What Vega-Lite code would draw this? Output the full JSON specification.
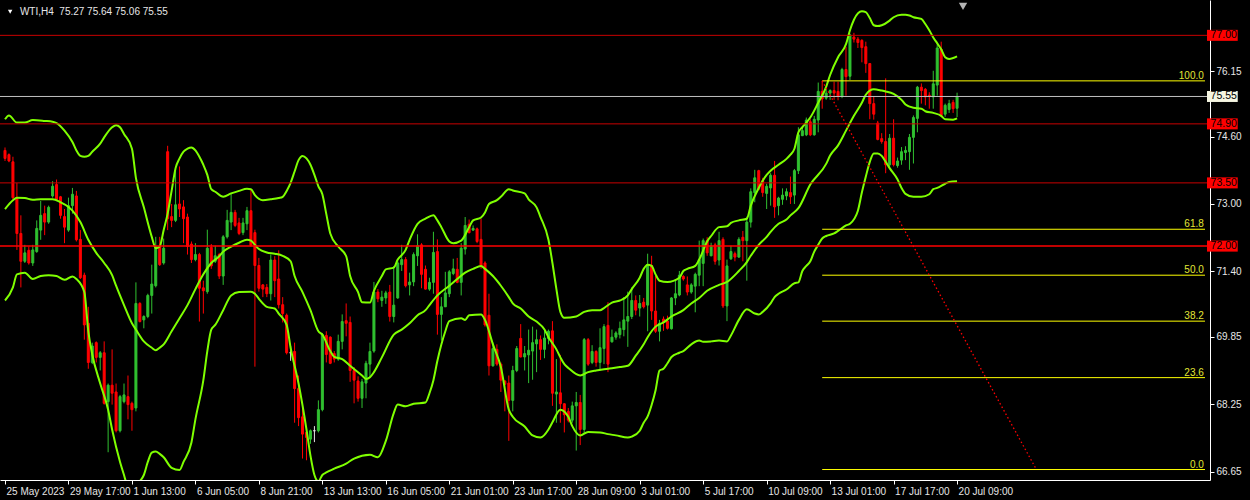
{
"$schema":"https://vega.github.io/schema/vega-lite/v6.json",
"width":1210,"height":480,
"autosize":{"type":"none"},
"padding":{"left":0,"top":0,"right":40,"bottom":20},
"background":"#000000",
"config":{"view":{"stroke":null},"axis":{"labelFont":"Liberation Sans"},"text":{"font":"Liberation Sans"}},
"datasets":{
"candles":[
{"i":0,"o":74.27,"h":74.34,"l":74.02,"c":74.08},
{"i":1,"o":74.17,"h":74.20,"l":73.99,"c":74.02},
{"i":2,"o":74.00,"h":74.12,"l":73.11,"c":73.15},
{"i":3,"o":73.15,"h":73.50,"l":71.91,"c":72.30},
{"i":4,"o":72.30,"h":72.73,"l":71.02,"c":71.64},
{"i":5,"o":71.64,"h":72.03,"l":71.60,"c":71.84},
{"i":6,"o":71.90,"h":71.99,"l":71.56,"c":71.60},
{"i":7,"o":71.60,"h":72.03,"l":71.53,"c":71.91},
{"i":8,"o":71.87,"h":72.61,"l":71.84,"c":72.42},
{"i":9,"o":72.38,"h":73.07,"l":72.15,"c":72.73},
{"i":10,"o":72.77,"h":72.96,"l":72.26,"c":72.57},
{"i":11,"o":72.57,"h":72.96,"l":72.53,"c":72.92},
{"i":12,"o":73.19,"h":73.54,"l":73.15,"c":73.42},
{"i":13,"o":73.46,"h":73.58,"l":73.07,"c":73.11},
{"i":14,"o":73.17,"h":73.19,"l":72.65,"c":72.73},
{"i":15,"o":72.70,"h":72.88,"l":72.07,"c":72.45},
{"i":16,"o":72.38,"h":73.15,"l":72.34,"c":72.96},
{"i":17,"o":72.96,"h":73.38,"l":72.77,"c":73.23},
{"i":18,"o":73.19,"h":73.31,"l":72.11,"c":72.15},
{"i":19,"o":72.16,"h":72.38,"l":71.22,"c":71.25},
{"i":20,"o":71.31,"h":71.37,"l":69.78,"c":70.13},
{"i":21,"o":70.17,"h":70.56,"l":69.09,"c":69.24},
{"i":22,"o":69.24,"h":69.71,"l":69.20,"c":69.63},
{"i":23,"o":69.71,"h":69.74,"l":69.24,"c":69.36},
{"i":24,"o":69.36,"h":69.51,"l":69.05,"c":69.47},
{"i":25,"o":69.47,"h":69.74,"l":68.24,"c":68.27},
{"i":26,"o":68.31,"h":68.74,"l":67.11,"c":68.70},
{"i":27,"o":68.70,"h":69.55,"l":68.24,"c":68.51},
{"i":28,"o":68.54,"h":68.74,"l":67.58,"c":67.62},
{"i":29,"o":67.62,"h":68.47,"l":67.58,"c":68.43},
{"i":30,"o":68.31,"h":68.74,"l":68.27,"c":68.47},
{"i":31,"o":68.43,"h":68.93,"l":67.89,"c":68.24},
{"i":32,"o":68.27,"h":68.31,"l":67.62,"c":68.12},
{"i":33,"o":68.16,"h":71.14,"l":68.08,"c":70.64},
{"i":34,"o":70.64,"h":70.67,"l":70.19,"c":70.21},
{"i":35,"o":70.25,"h":70.36,"l":70.05,"c":70.33},
{"i":36,"o":70.33,"h":70.87,"l":70.29,"c":70.83},
{"i":37,"o":70.83,"h":71.56,"l":70.40,"c":71.10},
{"i":38,"o":71.06,"h":72.22,"l":71.02,"c":71.99},
{"i":39,"o":71.99,"h":72.22,"l":71.53,"c":71.56},
{"i":40,"o":71.60,"h":72.18,"l":71.56,"c":71.95},
{"i":41,"o":74.24,"h":74.38,"l":72.38,"c":72.65},
{"i":42,"o":72.70,"h":73.00,"l":72.45,"c":72.61},
{"i":43,"o":72.61,"h":73.85,"l":72.57,"c":72.98},
{"i":44,"o":73.00,"h":73.89,"l":72.69,"c":72.88},
{"i":45,"o":72.93,"h":73.09,"l":72.07,"c":72.65},
{"i":46,"o":72.69,"h":72.77,"l":71.80,"c":71.99},
{"i":47,"o":72.05,"h":72.11,"l":71.60,"c":71.68},
{"i":48,"o":71.68,"h":72.07,"l":71.64,"c":71.80},
{"i":49,"o":71.80,"h":71.84,"l":70.21,"c":71.00},
{"i":50,"o":71.01,"h":71.18,"l":70.40,"c":70.94},
{"i":51,"o":70.92,"h":72.39,"l":70.87,"c":71.95},
{"i":52,"o":71.97,"h":72.05,"l":71.46,"c":71.53},
{"i":53,"o":71.64,"h":72.01,"l":71.60,"c":71.77},
{"i":54,"o":71.80,"h":71.84,"l":71.22,"c":71.29},
{"i":55,"o":71.29,"h":72.26,"l":71.08,"c":72.22},
{"i":56,"o":72.22,"h":72.86,"l":72.18,"c":72.61},
{"i":57,"o":72.57,"h":73.24,"l":72.38,"c":72.80},
{"i":58,"o":72.80,"h":72.86,"l":72.45,"c":72.49},
{"i":59,"o":72.55,"h":72.67,"l":72.26,"c":72.30},
{"i":60,"o":72.32,"h":72.67,"l":72.26,"c":72.55},
{"i":61,"o":72.53,"h":72.93,"l":72.38,"c":72.84},
{"i":62,"o":72.84,"h":73.35,"l":71.99,"c":72.01},
{"i":63,"o":72.32,"h":72.39,"l":69.14,"c":71.54},
{"i":64,"o":71.54,"h":71.72,"l":70.92,"c":71.00},
{"i":65,"o":71.08,"h":71.10,"l":70.79,"c":70.98},
{"i":66,"o":71.02,"h":71.10,"l":70.79,"c":70.87},
{"i":67,"o":70.87,"h":71.80,"l":70.71,"c":71.67},
{"i":68,"o":71.67,"h":71.76,"l":70.79,"c":71.18},
{"i":69,"o":71.22,"h":71.90,"l":70.52,"c":70.61},
{"i":70,"o":70.61,"h":70.79,"l":70.19,"c":70.40},
{"i":71,"o":70.36,"h":70.40,"l":69.43,"c":69.47},
{"i":72,"o":69.47,"h":69.63,"l":69.28,"c":69.47},
{"i":73,"o":69.50,"h":69.71,"l":67.81,"c":68.62},
{"i":74,"o":68.62,"h":68.93,"l":67.73,"c":67.93},
{"i":75,"o":67.95,"h":68.31,"l":66.96,"c":67.54},
{"i":76,"o":67.58,"h":67.65,"l":66.92,"c":67.46},
{"i":77,"o":67.42,"h":67.65,"l":67.31,"c":67.62},
{"i":78,"o":67.62,"h":67.73,"l":67.35,"c":67.62},
{"i":79,"o":67.62,"h":68.34,"l":67.58,"c":68.12},
{"i":80,"o":68.12,"h":69.94,"l":68.08,"c":69.90},
{"i":81,"o":69.88,"h":69.98,"l":69.24,"c":69.43},
{"i":82,"o":69.84,"h":69.86,"l":69.20,"c":69.22},
{"i":83,"o":69.45,"h":69.51,"l":69.24,"c":69.32},
{"i":84,"o":69.32,"h":69.90,"l":69.28,"c":69.74},
{"i":85,"o":69.74,"h":70.38,"l":69.55,"c":70.21},
{"i":86,"o":70.23,"h":70.64,"l":69.86,"c":70.17},
{"i":87,"o":70.19,"h":70.33,"l":68.78,"c":69.05},
{"i":88,"o":69.05,"h":69.13,"l":68.27,"c":68.82},
{"i":89,"o":68.80,"h":68.91,"l":68.31,"c":68.39},
{"i":90,"o":68.39,"h":68.85,"l":68.16,"c":68.78},
{"i":91,"o":68.75,"h":69.28,"l":68.39,"c":69.22},
{"i":92,"o":69.20,"h":69.71,"l":68.89,"c":69.50},
{"i":93,"o":69.51,"h":71.15,"l":69.47,"c":70.91},
{"i":94,"o":70.91,"h":70.98,"l":70.67,"c":70.75},
{"i":95,"o":70.71,"h":70.94,"l":70.56,"c":70.79},
{"i":96,"o":70.77,"h":70.94,"l":70.63,"c":70.89},
{"i":97,"o":70.91,"h":71.08,"l":70.21,"c":70.33},
{"i":98,"o":70.33,"h":71.53,"l":70.19,"c":70.60},
{"i":99,"o":70.77,"h":71.64,"l":70.75,"c":71.60},
{"i":100,"o":71.56,"h":72.03,"l":71.41,"c":71.68},
{"i":101,"o":71.68,"h":71.74,"l":71.02,"c":71.06},
{"i":102,"o":71.08,"h":71.37,"l":70.83,"c":71.15},
{"i":103,"o":71.15,"h":71.85,"l":71.05,"c":71.80},
{"i":104,"o":71.77,"h":72.28,"l":71.53,"c":72.01},
{"i":105,"o":72.03,"h":72.07,"l":71.00,"c":71.33},
{"i":106,"o":71.45,"h":71.54,"l":70.97,"c":70.98},
{"i":107,"o":70.98,"h":71.25,"l":70.94,"c":71.14},
{"i":108,"o":71.14,"h":72.34,"l":70.87,"c":71.85},
{"i":109,"o":71.87,"h":72.16,"l":69.90,"c":70.38},
{"i":110,"o":70.38,"h":70.79,"l":69.76,"c":70.56},
{"i":111,"o":70.56,"h":71.39,"l":70.56,"c":70.89},
{"i":112,"o":70.87,"h":71.43,"l":70.79,"c":71.39},
{"i":113,"o":71.35,"h":71.70,"l":71.31,"c":71.46},
{"i":114,"o":71.45,"h":71.72,"l":71.12,"c":71.14},
{"i":115,"o":71.14,"h":72.07,"l":70.83,"c":71.95},
{"i":116,"o":71.93,"h":72.69,"l":71.80,"c":72.49},
{"i":117,"o":72.52,"h":72.63,"l":72.30,"c":72.32},
{"i":118,"o":72.38,"h":72.49,"l":72.36,"c":72.42},
{"i":119,"o":72.41,"h":72.44,"l":72.07,"c":72.11},
{"i":120,"o":72.16,"h":72.65,"l":71.46,"c":71.53},
{"i":121,"o":71.60,"h":71.64,"l":70.09,"c":70.13},
{"i":122,"o":70.36,"h":70.87,"l":68.93,"c":69.16},
{"i":123,"o":69.16,"h":69.71,"l":69.14,"c":69.57},
{"i":124,"o":69.55,"h":69.67,"l":69.16,"c":69.20},
{"i":125,"o":69.20,"h":69.24,"l":68.54,"c":68.82},
{"i":126,"o":68.80,"h":68.82,"l":68.08,"c":68.72},
{"i":127,"o":68.75,"h":68.93,"l":67.38,"c":68.34},
{"i":128,"o":68.34,"h":69.16,"l":68.08,"c":69.05},
{"i":129,"o":69.05,"h":69.63,"l":69.01,"c":69.57},
{"i":130,"o":69.81,"h":70.15,"l":69.36,"c":69.37},
{"i":131,"o":69.37,"h":69.63,"l":69.05,"c":69.45},
{"i":132,"o":69.42,"h":70.02,"l":68.75,"c":69.53},
{"i":133,"o":69.51,"h":70.09,"l":68.83,"c":69.71},
{"i":134,"o":69.68,"h":70.02,"l":69.01,"c":69.78},
{"i":135,"o":69.78,"h":69.88,"l":69.30,"c":69.55},
{"i":136,"o":69.55,"h":70.02,"l":69.34,"c":69.82},
{"i":137,"o":69.81,"h":70.02,"l":69.67,"c":69.98},
{"i":138,"o":69.99,"h":70.22,"l":68.21,"c":68.51},
{"i":139,"o":68.49,"h":69.32,"l":67.81,"c":68.54},
{"i":140,"o":68.52,"h":69.42,"l":67.81,"c":68.26},
{"i":141,"o":68.26,"h":68.27,"l":67.58,"c":68.00},
{"i":142,"o":68.08,"h":68.16,"l":67.82,"c":67.87},
{"i":143,"o":67.87,"h":68.31,"l":67.81,"c":68.21},
{"i":144,"o":68.21,"h":68.54,"l":67.15,"c":68.29},
{"i":145,"o":68.29,"h":68.47,"l":67.28,"c":67.65},
{"i":146,"o":67.65,"h":69.82,"l":67.54,"c":69.78},
{"i":147,"o":69.78,"h":69.82,"l":69.16,"c":69.20},
{"i":148,"o":69.24,"h":69.65,"l":69.20,"c":69.50},
{"i":149,"o":69.50,"h":69.53,"l":69.14,"c":69.24},
{"i":150,"o":69.24,"h":70.05,"l":69.05,"c":69.59},
{"i":151,"o":69.57,"h":70.15,"l":69.20,"c":70.09},
{"i":152,"o":70.12,"h":70.67,"l":69.01,"c":69.20},
{"i":153,"o":69.73,"h":70.02,"l":69.71,"c":69.84},
{"i":154,"o":69.84,"h":69.98,"l":69.78,"c":69.94},
{"i":155,"o":69.90,"h":70.21,"l":69.81,"c":70.05},
{"i":156,"o":70.02,"h":70.79,"l":69.86,"c":70.25},
{"i":157,"o":70.22,"h":70.92,"l":69.61,"c":70.33},
{"i":158,"o":70.33,"h":71.02,"l":70.27,"c":70.71},
{"i":159,"o":70.71,"h":70.83,"l":70.36,"c":70.48},
{"i":160,"o":70.53,"h":70.84,"l":70.33,"c":70.64},
{"i":161,"o":70.67,"h":70.77,"l":70.52,"c":70.56},
{"i":162,"o":70.60,"h":71.82,"l":69.98,"c":71.56},
{"i":163,"o":71.54,"h":71.77,"l":70.25,"c":70.46},
{"i":164,"o":70.46,"h":71.29,"l":69.94,"c":69.98},
{"i":165,"o":69.98,"h":70.25,"l":69.74,"c":70.17},
{"i":166,"o":70.27,"h":70.33,"l":69.99,"c":70.19},
{"i":167,"o":70.22,"h":70.35,"l":70.02,"c":70.05},
{"i":168,"o":70.04,"h":70.79,"l":70.02,"c":70.77},
{"i":169,"o":70.77,"h":71.18,"l":70.60,"c":70.87},
{"i":170,"o":70.84,"h":71.41,"l":70.81,"c":71.31},
{"i":171,"o":71.28,"h":71.31,"l":71.18,"c":71.22},
{"i":172,"o":71.08,"h":71.28,"l":70.83,"c":70.91},
{"i":173,"o":70.91,"h":71.12,"l":70.87,"c":71.08},
{"i":174,"o":71.05,"h":71.37,"l":70.43,"c":71.33},
{"i":175,"o":71.31,"h":72.13,"l":71.05,"c":71.68},
{"i":176,"o":71.59,"h":72.18,"l":71.05,"c":72.13},
{"i":177,"o":72.13,"h":72.21,"l":71.77,"c":71.84},
{"i":178,"o":71.77,"h":72.08,"l":71.76,"c":72.01},
{"i":179,"o":72.03,"h":72.08,"l":71.56,"c":71.64},
{"i":180,"o":71.67,"h":72.34,"l":71.54,"c":72.13},
{"i":181,"o":72.16,"h":72.21,"l":70.53,"c":70.58},
{"i":182,"o":70.58,"h":71.68,"l":70.22,"c":71.53},
{"i":183,"o":71.70,"h":72.01,"l":71.67,"c":71.87},
{"i":184,"o":71.82,"h":71.87,"l":71.64,"c":71.74},
{"i":185,"o":71.74,"h":72.21,"l":71.72,"c":72.16},
{"i":186,"o":72.21,"h":72.36,"l":71.64,"c":72.13},
{"i":187,"o":72.13,"h":72.70,"l":71.18,"c":72.57},
{"i":188,"o":72.57,"h":73.37,"l":72.44,"c":73.29},
{"i":189,"o":73.27,"h":73.81,"l":73.04,"c":73.62},
{"i":190,"o":73.79,"h":73.81,"l":73.32,"c":73.35},
{"i":191,"o":73.55,"h":73.62,"l":73.17,"c":73.27},
{"i":192,"o":73.25,"h":73.48,"l":72.88,"c":73.42},
{"i":193,"o":73.38,"h":73.73,"l":72.96,"c":73.68},
{"i":194,"o":73.68,"h":74.02,"l":72.67,"c":72.93},
{"i":195,"o":72.96,"h":73.17,"l":72.73,"c":73.14},
{"i":196,"o":73.11,"h":73.37,"l":72.98,"c":73.21},
{"i":197,"o":73.19,"h":73.37,"l":73.09,"c":73.29},
{"i":198,"o":73.27,"h":73.65,"l":73.00,"c":73.17},
{"i":199,"o":73.21,"h":73.83,"l":73.00,"c":73.79},
{"i":200,"o":73.79,"h":74.82,"l":73.71,"c":74.64},
{"i":201,"o":74.62,"h":74.82,"l":74.61,"c":74.74},
{"i":202,"o":74.64,"h":75.05,"l":74.61,"c":74.99},
{"i":203,"o":74.95,"h":75.01,"l":74.61,"c":74.64},
{"i":204,"o":74.64,"h":75.09,"l":74.62,"c":75.01},
{"i":205,"o":74.99,"h":75.88,"l":74.70,"c":75.67},
{"i":206,"o":75.67,"h":75.92,"l":75.26,"c":75.49},
{"i":207,"o":75.51,"h":75.78,"l":75.47,"c":75.63},
{"i":208,"o":75.63,"h":75.72,"l":75.47,"c":75.69},
{"i":209,"o":75.69,"h":75.90,"l":75.47,"c":75.63},
{"i":210,"o":75.67,"h":75.90,"l":75.46,"c":75.55},
{"i":211,"o":75.55,"h":76.23,"l":75.51,"c":76.19},
{"i":212,"o":76.19,"h":76.73,"l":75.57,"c":76.02},
{"i":213,"o":76.03,"h":77.04,"l":75.94,"c":77.01},
{"i":214,"o":76.96,"h":77.06,"l":76.83,"c":76.91},
{"i":215,"o":76.91,"h":76.96,"l":76.70,"c":76.83},
{"i":216,"o":76.88,"h":76.91,"l":76.36,"c":76.71},
{"i":217,"o":76.73,"h":76.85,"l":76.11,"c":76.33},
{"i":218,"o":76.33,"h":76.34,"l":75.01,"c":75.38},
{"i":219,"o":75.38,"h":75.55,"l":75.00,"c":75.13},
{"i":220,"o":74.92,"h":74.97,"l":74.51,"c":74.53},
{"i":221,"o":74.55,"h":74.68,"l":74.43,"c":74.48},
{"i":222,"o":74.48,"h":75.98,"l":73.73,"c":73.93},
{"i":223,"o":73.93,"h":74.66,"l":73.86,"c":74.56},
{"i":224,"o":74.56,"h":75.01,"l":73.89,"c":73.93},
{"i":225,"o":73.91,"h":74.10,"l":73.86,"c":74.02},
{"i":226,"o":74.04,"h":74.35,"l":73.93,"c":74.24},
{"i":227,"o":74.22,"h":74.37,"l":74.04,"c":74.27},
{"i":228,"o":74.24,"h":74.66,"l":73.81,"c":74.58},
{"i":229,"o":74.58,"h":75.10,"l":73.96,"c":75.05},
{"i":230,"o":75.03,"h":75.80,"l":74.70,"c":75.77},
{"i":231,"o":75.77,"h":75.86,"l":75.38,"c":75.69},
{"i":232,"o":75.72,"h":75.75,"l":75.34,"c":75.54},
{"i":233,"o":75.58,"h":75.65,"l":75.26,"c":75.55},
{"i":234,"o":75.54,"h":76.16,"l":75.26,"c":75.85},
{"i":235,"o":75.82,"h":76.78,"l":75.57,"c":76.70},
{"i":236,"o":76.67,"h":76.85,"l":75.07,"c":75.10},
{"i":237,"o":75.13,"h":75.38,"l":75.07,"c":75.34},
{"i":238,"o":75.24,"h":75.47,"l":75.16,"c":75.38},
{"i":239,"o":75.41,"h":75.47,"l":75.16,"c":75.26},
{"i":240,"o":75.27,"h":75.64,"l":75.06,"c":75.55}
],
"bands":[
{"b":"u","i":0,"v":75.01},{"b":"u","i":1,"v":75.10},{"b":"u","i":3,"v":74.93},{"b":"u","i":5,"v":74.93},{"b":"u","i":7,"v":74.99},{"b":"u","i":10,"v":74.97},{"b":"u","i":12,"v":74.95},{"b":"u","i":13,"v":74.92},{"b":"u","i":15,"v":74.74},{"b":"u","i":17,"v":74.47},{"b":"u","i":18,"v":74.27},{"b":"u","i":19,"v":74.14},{"b":"u","i":20,"v":74.12},{"b":"u","i":21,"v":74.14},{"b":"u","i":22,"v":74.24},{"b":"u","i":24,"v":74.43},{"b":"u","i":25,"v":74.58},{"b":"u","i":27,"v":74.82},{"b":"u","i":28,"v":74.87},{"b":"u","i":29,"v":74.82},{"b":"u","i":30,"v":74.66},{"b":"u","i":32,"v":74.31},{"b":"u","i":33,"v":73.62},{"b":"u","i":35,"v":72.92},{"b":"u","i":37,"v":72.22},{"b":"u","i":38,"v":71.95},{"b":"u","i":39,"v":71.99},{"b":"u","i":40,"v":72.38},{"b":"u","i":41,"v":72.77},{"b":"u","i":42,"v":73.31},{"b":"u","i":43,"v":73.85},{"b":"u","i":44,"v":74.08},{"b":"u","i":45,"v":74.24},{"b":"u","i":46,"v":74.31},{"b":"u","i":47,"v":74.34},{"b":"u","i":48,"v":74.27},{"b":"u","i":49,"v":74.12},{"b":"u","i":50,"v":73.93},{"b":"u","i":51,"v":73.69},{"b":"u","i":52,"v":73.35},{"b":"u","i":53,"v":73.29},{"b":"u","i":55,"v":73.17},{"b":"u","i":57,"v":73.25},{"b":"u","i":59,"v":73.31},{"b":"u","i":61,"v":73.36},{"b":"u","i":62,"v":73.35},{"b":"u","i":63,"v":73.21},{"b":"u","i":65,"v":73.09},{"b":"u","i":67,"v":73.11},{"b":"u","i":69,"v":73.14},{"b":"u","i":70,"v":73.17},{"b":"u","i":71,"v":73.31},{"b":"u","i":72,"v":73.50},{"b":"u","i":73,"v":73.77},{"b":"u","i":74,"v":74.04},{"b":"u","i":75,"v":74.14},{"b":"u","i":76,"v":74.08},{"b":"u","i":77,"v":73.93},{"b":"u","i":78,"v":73.69},{"b":"u","i":79,"v":73.42},{"b":"u","i":80,"v":73.23},{"b":"u","i":81,"v":72.76},{"b":"u","i":82,"v":72.30},{"b":"u","i":84,"v":71.99},{"b":"u","i":86,"v":71.76},{"b":"u","i":87,"v":71.29},{"b":"u","i":89,"v":70.91},{"b":"u","i":90,"v":70.67},{"b":"u","i":92,"v":70.66},{"b":"u","i":93,"v":70.94},{"b":"u","i":95,"v":71.29},{"b":"u","i":96,"v":71.45},{"b":"u","i":98,"v":71.49},{"b":"u","i":99,"v":71.68},{"b":"u","i":101,"v":71.91},{"b":"u","i":102,"v":72.15},{"b":"u","i":104,"v":72.53},{"b":"u","i":106,"v":72.65},{"b":"u","i":108,"v":72.73},{"b":"u","i":109,"v":72.61},{"b":"u","i":110,"v":72.45},{"b":"u","i":112,"v":72.11},{"b":"u","i":113,"v":72.07},{"b":"u","i":115,"v":72.13},{"b":"u","i":117,"v":72.45},{"b":"u","i":118,"v":72.61},{"b":"u","i":120,"v":72.68},{"b":"u","i":121,"v":72.80},{"b":"u","i":122,"v":73.00},{"b":"u","i":124,"v":73.09},{"b":"u","i":125,"v":73.17},{"b":"u","i":127,"v":73.35},{"b":"u","i":128,"v":73.32},{"b":"u","i":131,"v":73.25},{"b":"u","i":132,"v":73.11},{"b":"u","i":134,"v":72.92},{"b":"u","i":135,"v":72.69},{"b":"u","i":137,"v":72.15},{"b":"u","i":138,"v":71.60},{"b":"u","i":139,"v":70.98},{"b":"u","i":140,"v":70.44},{"b":"u","i":141,"v":70.30},{"b":"u","i":144,"v":70.33},{"b":"u","i":146,"v":70.44},{"b":"u","i":148,"v":70.48},{"b":"u","i":150,"v":70.48},{"b":"u","i":151,"v":70.53},{"b":"u","i":153,"v":70.66},{"b":"u","i":155,"v":70.71},{"b":"u","i":157,"v":70.83},{"b":"u","i":158,"v":70.98},{"b":"u","i":160,"v":71.25},{"b":"u","i":161,"v":71.46},{"b":"u","i":162,"v":71.56},{"b":"u","i":163,"v":71.53},{"b":"u","i":164,"v":71.33},{"b":"u","i":165,"v":71.18},{"b":"u","i":167,"v":71.15},{"b":"u","i":170,"v":71.25},{"b":"u","i":171,"v":71.41},{"b":"u","i":172,"v":71.46},{"b":"u","i":174,"v":71.53},{"b":"u","i":175,"v":71.68},{"b":"u","i":177,"v":72.11},{"b":"u","i":178,"v":72.24},{"b":"u","i":180,"v":72.45},{"b":"u","i":182,"v":72.47},{"b":"u","i":183,"v":72.55},{"b":"u","i":185,"v":72.61},{"b":"u","i":187,"v":72.65},{"b":"u","i":188,"v":72.96},{"b":"u","i":190,"v":73.38},{"b":"u","i":192,"v":73.69},{"b":"u","i":193,"v":73.79},{"b":"u","i":195,"v":73.93},{"b":"u","i":197,"v":74.07},{"b":"u","i":198,"v":74.17},{"b":"u","i":199,"v":74.31},{"b":"u","i":200,"v":74.70},{"b":"u","i":201,"v":74.82},{"b":"u","i":202,"v":74.93},{"b":"u","i":203,"v":75.05},{"b":"u","i":205,"v":75.40},{"b":"u","i":207,"v":75.78},{"b":"u","i":208,"v":76.06},{"b":"u","i":210,"v":76.48},{"b":"u","i":212,"v":76.79},{"b":"u","i":213,"v":77.12},{"b":"u","i":214,"v":77.37},{"b":"u","i":216,"v":77.57},{"b":"u","i":217,"v":77.55},{"b":"u","i":218,"v":77.41},{"b":"u","i":219,"v":77.24},{"b":"u","i":220,"v":77.22},{"b":"u","i":221,"v":77.24},{"b":"u","i":223,"v":77.35},{"b":"u","i":224,"v":77.43},{"b":"u","i":226,"v":77.49},{"b":"u","i":227,"v":77.49},{"b":"u","i":228,"v":77.47},{"b":"u","i":229,"v":77.43},{"b":"u","i":231,"v":77.39},{"b":"u","i":232,"v":77.27},{"b":"u","i":233,"v":77.12},{"b":"u","i":234,"v":76.95},{"b":"u","i":235,"v":76.81},{"b":"u","i":236,"v":76.67},{"b":"u","i":237,"v":76.48},{"b":"u","i":238,"v":76.44},{"b":"u","i":240,"v":76.50},
{"b":"m","i":0,"v":72.88},{"b":"m","i":2,"v":73.09},{"b":"m","i":3,"v":73.15},{"b":"m","i":5,"v":73.14},{"b":"m","i":7,"v":73.10},{"b":"m","i":9,"v":73.11},{"b":"m","i":12,"v":73.11},{"b":"m","i":14,"v":73.04},{"b":"m","i":16,"v":72.93},{"b":"m","i":17,"v":72.84},{"b":"m","i":19,"v":72.57},{"b":"m","i":21,"v":72.15},{"b":"m","i":23,"v":71.84},{"b":"m","i":25,"v":71.60},{"b":"m","i":27,"v":71.31},{"b":"m","i":28,"v":71.06},{"b":"m","i":30,"v":70.60},{"b":"m","i":32,"v":70.17},{"b":"m","i":33,"v":70.02},{"b":"m","i":35,"v":69.74},{"b":"m","i":37,"v":69.59},{"b":"m","i":38,"v":69.53},{"b":"m","i":39,"v":69.59},{"b":"m","i":40,"v":69.67},{"b":"m","i":42,"v":69.98},{"b":"m","i":44,"v":70.29},{"b":"m","i":46,"v":70.60},{"b":"m","i":48,"v":70.98},{"b":"m","i":50,"v":71.33},{"b":"m","i":52,"v":71.60},{"b":"m","i":54,"v":71.76},{"b":"m","i":55,"v":71.87},{"b":"m","i":57,"v":71.99},{"b":"m","i":59,"v":72.08},{"b":"m","i":61,"v":72.15},{"b":"m","i":62,"v":72.13},{"b":"m","i":63,"v":72.03},{"b":"m","i":64,"v":71.93},{"b":"m","i":66,"v":71.85},{"b":"m","i":68,"v":71.82},{"b":"m","i":70,"v":71.77},{"b":"m","i":72,"v":71.64},{"b":"m","i":73,"v":71.29},{"b":"m","i":75,"v":70.91},{"b":"m","i":77,"v":70.48},{"b":"m","i":79,"v":69.98},{"b":"m","i":80,"v":69.90},{"b":"m","i":82,"v":69.51},{"b":"m","i":83,"v":69.37},{"b":"m","i":85,"v":69.32},{"b":"m","i":87,"v":69.16},{"b":"m","i":90,"v":68.93},{"b":"m","i":91,"v":68.85},{"b":"m","i":92,"v":68.89},{"b":"m","i":93,"v":69.01},{"b":"m","i":95,"v":69.36},{"b":"m","i":98,"v":69.90},{"b":"m","i":100,"v":70.02},{"b":"m","i":102,"v":70.17},{"b":"m","i":104,"v":70.36},{"b":"m","i":106,"v":70.48},{"b":"m","i":107,"v":70.60},{"b":"m","i":109,"v":70.83},{"b":"m","i":112,"v":71.06},{"b":"m","i":114,"v":71.22},{"b":"m","i":116,"v":71.37},{"b":"m","i":118,"v":71.46},{"b":"m","i":120,"v":71.53},{"b":"m","i":121,"v":71.46},{"b":"m","i":123,"v":71.29},{"b":"m","i":125,"v":71.06},{"b":"m","i":127,"v":70.79},{"b":"m","i":128,"v":70.64},{"b":"m","i":130,"v":70.52},{"b":"m","i":132,"v":70.33},{"b":"m","i":134,"v":70.21},{"b":"m","i":136,"v":70.02},{"b":"m","i":137,"v":69.84},{"b":"m","i":139,"v":69.55},{"b":"m","i":140,"v":69.36},{"b":"m","i":141,"v":69.20},{"b":"m","i":142,"v":69.11},{"b":"m","i":145,"v":68.93},{"b":"m","i":147,"v":69.01},{"b":"m","i":149,"v":69.05},{"b":"m","i":152,"v":69.09},{"b":"m","i":155,"v":69.13},{"b":"m","i":157,"v":69.16},{"b":"m","i":159,"v":69.40},{"b":"m","i":161,"v":69.67},{"b":"m","i":162,"v":69.84},{"b":"m","i":164,"v":70.09},{"b":"m","i":166,"v":70.19},{"b":"m","i":168,"v":70.33},{"b":"m","i":171,"v":70.48},{"b":"m","i":173,"v":70.64},{"b":"m","i":175,"v":70.77},{"b":"m","i":177,"v":70.94},{"b":"m","i":180,"v":71.08},{"b":"m","i":182,"v":71.15},{"b":"m","i":185,"v":71.41},{"b":"m","i":187,"v":71.62},{"b":"m","i":188,"v":71.77},{"b":"m","i":190,"v":72.03},{"b":"m","i":192,"v":72.22},{"b":"m","i":193,"v":72.34},{"b":"m","i":195,"v":72.53},{"b":"m","i":197,"v":72.63},{"b":"m","i":198,"v":72.73},{"b":"m","i":200,"v":72.90},{"b":"m","i":203,"v":73.46},{"b":"m","i":207,"v":73.95},{"b":"m","i":208,"v":74.15},{"b":"m","i":210,"v":74.39},{"b":"m","i":212,"v":74.74},{"b":"m","i":214,"v":75.09},{"b":"m","i":216,"v":75.40},{"b":"m","i":217,"v":75.59},{"b":"m","i":219,"v":75.72},{"b":"m","i":221,"v":75.69},{"b":"m","i":222,"v":75.67},{"b":"m","i":224,"v":75.61},{"b":"m","i":226,"v":75.47},{"b":"m","i":227,"v":75.36},{"b":"m","i":229,"v":75.28},{"b":"m","i":231,"v":75.26},{"b":"m","i":232,"v":75.20},{"b":"m","i":234,"v":75.16},{"b":"m","i":236,"v":75.09},{"b":"m","i":237,"v":75.01},{"b":"m","i":239,"v":75.00},{"b":"m","i":240,"v":75.03},
{"b":"l","i":0,"v":70.71},{"b":"l","i":2,"v":71.02},{"b":"l","i":3,"v":71.33},{"b":"l","i":5,"v":71.37},{"b":"l","i":7,"v":71.22},{"b":"l","i":9,"v":71.29},{"b":"l","i":11,"v":71.31},{"b":"l","i":13,"v":71.29},{"b":"l","i":15,"v":71.20},{"b":"l","i":17,"v":71.28},{"b":"l","i":18,"v":71.22},{"b":"l","i":20,"v":70.91},{"b":"l","i":21,"v":69.98},{"b":"l","i":22,"v":69.43},{"b":"l","i":24,"v":68.74},{"b":"l","i":26,"v":68.12},{"b":"l","i":27,"v":67.65},{"b":"l","i":29,"v":66.88},{"b":"l","i":30,"v":66.57},{"b":"l","i":31,"v":66.26},{"b":"l","i":32,"v":66.18},{"b":"l","i":33,"v":66.26},{"b":"l","i":34,"v":66.42},{"b":"l","i":35,"v":66.57},{"b":"l","i":36,"v":66.88},{"b":"l","i":37,"v":67.10},{"b":"l","i":38,"v":67.13},{"b":"l","i":39,"v":67.07},{"b":"l","i":40,"v":66.99},{"b":"l","i":42,"v":66.74},{"b":"l","i":44,"v":66.69},{"b":"l","i":45,"v":66.88},{"b":"l","i":47,"v":67.34},{"b":"l","i":48,"v":67.89},{"b":"l","i":50,"v":68.82},{"b":"l","i":51,"v":69.51},{"b":"l","i":52,"v":70.02},{"b":"l","i":53,"v":70.13},{"b":"l","i":55,"v":70.48},{"b":"l","i":57,"v":70.83},{"b":"l","i":59,"v":70.91},{"b":"l","i":62,"v":70.92},{"b":"l","i":63,"v":70.87},{"b":"l","i":64,"v":70.75},{"b":"l","i":66,"v":70.56},{"b":"l","i":68,"v":70.52},{"b":"l","i":69,"v":70.40},{"b":"l","i":71,"v":70.13},{"b":"l","i":72,"v":69.59},{"b":"l","i":74,"v":68.74},{"b":"l","i":76,"v":67.65},{"b":"l","i":77,"v":67.03},{"b":"l","i":78,"v":66.57},{"b":"l","i":79,"v":66.42},{"b":"l","i":80,"v":66.57},{"b":"l","i":81,"v":66.63},{"b":"l","i":83,"v":66.72},{"b":"l","i":86,"v":66.84},{"b":"l","i":88,"v":66.96},{"b":"l","i":92,"v":67.05},{"b":"l","i":94,"v":66.99},{"b":"l","i":96,"v":67.38},{"b":"l","i":98,"v":68.04},{"b":"l","i":99,"v":68.24},{"b":"l","i":101,"v":68.20},{"b":"l","i":103,"v":68.26},{"b":"l","i":106,"v":68.29},{"b":"l","i":107,"v":68.51},{"b":"l","i":108,"v":68.82},{"b":"l","i":109,"v":69.28},{"b":"l","i":111,"v":69.98},{"b":"l","i":112,"v":70.22},{"b":"l","i":115,"v":70.29},{"b":"l","i":116,"v":70.25},{"b":"l","i":117,"v":70.36},{"b":"l","i":120,"v":70.38},{"b":"l","i":121,"v":70.25},{"b":"l","i":123,"v":69.67},{"b":"l","i":125,"v":69.13},{"b":"l","i":127,"v":68.12},{"b":"l","i":128,"v":67.95},{"b":"l","i":131,"v":67.72},{"b":"l","i":133,"v":67.51},{"b":"l","i":135,"v":67.46},{"b":"l","i":137,"v":67.65},{"b":"l","i":138,"v":67.82},{"b":"l","i":140,"v":68.12},{"b":"l","i":142,"v":67.95},{"b":"l","i":143,"v":67.73},{"b":"l","i":145,"v":67.51},{"b":"l","i":147,"v":67.59},{"b":"l","i":150,"v":67.58},{"b":"l","i":152,"v":67.54},{"b":"l","i":154,"v":67.51},{"b":"l","i":157,"v":67.46},{"b":"l","i":158,"v":67.48},{"b":"l","i":160,"v":67.62},{"b":"l","i":161,"v":67.81},{"b":"l","i":162,"v":67.96},{"b":"l","i":163,"v":68.23},{"b":"l","i":164,"v":68.58},{"b":"l","i":165,"v":69.05},{"b":"l","i":166,"v":69.09},{"b":"l","i":167,"v":69.22},{"b":"l","i":168,"v":69.37},{"b":"l","i":170,"v":69.47},{"b":"l","i":171,"v":69.51},{"b":"l","i":173,"v":69.67},{"b":"l","i":175,"v":69.76},{"b":"l","i":176,"v":69.73},{"b":"l","i":178,"v":69.74},{"b":"l","i":180,"v":69.76},{"b":"l","i":182,"v":69.74},{"b":"l","i":183,"v":69.88},{"b":"l","i":185,"v":70.25},{"b":"l","i":187,"v":70.50},{"b":"l","i":189,"v":70.40},{"b":"l","i":190,"v":70.38},{"b":"l","i":191,"v":70.44},{"b":"l","i":193,"v":70.64},{"b":"l","i":194,"v":70.79},{"b":"l","i":195,"v":70.87},{"b":"l","i":197,"v":70.97},{"b":"l","i":199,"v":71.12},{"b":"l","i":200,"v":71.14},{"b":"l","i":201,"v":71.41},{"b":"l","i":202,"v":71.53},{"b":"l","i":203,"v":71.64},{"b":"l","i":204,"v":71.87},{"b":"l","i":205,"v":72.03},{"b":"l","i":206,"v":72.18},{"b":"l","i":207,"v":72.24},{"b":"l","i":209,"v":72.30},{"b":"l","i":210,"v":72.36},{"b":"l","i":212,"v":72.49},{"b":"l","i":213,"v":72.53},{"b":"l","i":215,"v":72.84},{"b":"l","i":216,"v":73.27},{"b":"l","i":217,"v":73.65},{"b":"l","i":218,"v":74.00},{"b":"l","i":219,"v":74.20},{"b":"l","i":220,"v":74.20},{"b":"l","i":221,"v":74.14},{"b":"l","i":222,"v":74.00},{"b":"l","i":223,"v":73.85},{"b":"l","i":225,"v":73.58},{"b":"l","i":226,"v":73.38},{"b":"l","i":227,"v":73.24},{"b":"l","i":229,"v":73.17},{"b":"l","i":231,"v":73.17},{"b":"l","i":233,"v":73.23},{"b":"l","i":234,"v":73.35},{"b":"l","i":235,"v":73.38},{"b":"l","i":237,"v":73.48},{"b":"l","i":238,"v":73.52},{"b":"l","i":240,"v":73.54}
],
"trend":[{"i":206,"p":75.92},{"i":260,"p":66.70}]
},
"layer":[
{"data":{"name":"candles"},
 "mark":{"type":"rule","strokeWidth":1,"clip":true},
 "encoding":{
  "x":{"field":"i","type":"quantitative","title":null,"scale":{"domain":[0,302.5],"nice":false,"zero":false},
   "axis":{"orient":"bottom","title":null,"grid":false,"values":[0,16,32,48,64,80,96,112,128,144,160,176,192,208,224,240],
    "labelExpr":"['25 May 2023','29 May 17:00','1 Jun 13:00','6 Jun 05:00','8 Jun 21:00','13 Jun 13:00','16 Jun 05:00','21 Jun 01:00','23 Jun 17:00','28 Jun 09:00','3 Jul 01:00','5 Jul 17:00','10 Jul 09:00','13 Jul 01:00','17 Jul 17:00','20 Jul 09:00'][round(datum.value/16)]",
    "domainColor":"#ffffff","tickColor":"#ffffff","tickSize":4,"labelColor":"#e6e6e6","labelFontSize":10,"labelAlign":"left","labelOffset":1,"labelPadding":2,"labelFlush":false,"labelOverlap":false,"labelBound":false}},
  "y":{"field":"l","type":"quantitative","title":null,"scale":{"domain":[66.57,77.72],"nice":false,"zero":false},
   "axis":{"orient":"right","title":null,"grid":false,"values":[76.95,76.15,75.4,74.6,73.8,73.0,72.2,71.4,70.6,69.85,69.05,68.25,67.45,66.65],"format":".2f",
    "domainColor":"#ffffff","tickColor":"#ffffff","tickSize":4,"labelColor":"#e6e6e6","labelFontSize":10,"labelAlign":"left","labelBaseline":"middle","labelPadding":2,"labelFlush":false,"labelOverlap":false,"labelBound":false}},
  "y2":{"field":"h"},
  "color":{"condition":[{"test":"datum.c > datum.o","value":"#30c030"},{"test":"datum.c < datum.o","value":"#ff0000"}],"value":"#e6e6e6"}
 }},
{"data":{"name":"candles"},
 "mark":{"type":"bar","width":2,"strokeWidth":1,"clip":true},
 "encoding":{
  "x":{"field":"i","type":"quantitative","title":null},
  "y":{"field":"o","type":"quantitative","title":null},
  "y2":{"field":"c"},
  "color":{"condition":[{"test":"datum.c > datum.o","value":"#30c030"},{"test":"datum.c < datum.o","value":"#ff0000"}],"value":"#e6e6e6"},
  "stroke":{"condition":[{"test":"datum.c > datum.o","value":"#30c030"},{"test":"datum.c < datum.o","value":"#ff0000"}],"value":"#e6e6e6"}
 }},
{"data":{"name":"bands"},
 "mark":{"type":"line","strokeWidth":2,"clip":true,"interpolate":"monotone","color":"#7fff00"},
 "encoding":{
  "x":{"field":"i","type":"quantitative","title":null},
  "y":{"field":"v","type":"quantitative","title":null},
  "detail":{"field":"b"}
 }},
{"data":{"values":[{"p":77.0},{"p":74.9},{"p":73.5}]},
 "mark":{"type":"rule","color":"#c80000","strokeWidth":1},
 "encoding":{"y":{"field":"p","type":"quantitative","title":null}}},
{"data":{"values":[{"p":72.0}]},
 "mark":{"type":"rule","color":"#ff0000","strokeWidth":1.5},
 "encoding":{"y":{"field":"p","type":"quantitative","title":null}}},
{"data":{"values":[{"p":75.55}]},
 "mark":{"type":"rule","color":"#c0c0c0","strokeWidth":1},
 "encoding":{"y":{"field":"p","type":"quantitative","title":null}}},
{"data":{"values":[{"lv":"100.0","p":75.92},{"lv":"61.8","p":72.40},{"lv":"50.0","p":71.31},{"lv":"38.2","p":70.22},{"lv":"23.6","p":68.88},{"lv":"0.0","p":66.70}]},
 "layer":[
  {"mark":{"type":"rule","color":"#ffff00","strokeWidth":1},
   "encoding":{
    "x":{"datum":206,"type":"quantitative","title":null},
    "x2":{"datum":302.5},
    "y":{"field":"p","type":"quantitative","title":null}}},
  {"mark":{"type":"text","align":"right","baseline":"alphabetic","dy":-2,"fontSize":10,"color":"#e2e636"},
   "encoding":{
    "x":{"datum":302.2,"type":"quantitative","title":null},
    "y":{"field":"p","type":"quantitative","title":null},
    "text":{"field":"lv"}}}
 ]},
{"data":{"name":"trend"},
 "mark":{"type":"line","color":"#ff0000","strokeWidth":1.3,"strokeDash":[1.5,2.5],"clip":true},
 "encoding":{
  "x":{"field":"i","type":"quantitative","title":null},
  "y":{"field":"p","type":"quantitative","title":null}
 }},
{"data":{"values":[{"p":77.0},{"p":74.9},{"p":73.5},{"p":72.0}]},
 "layer":[
  {"mark":{"type":"bar","orient":"horizontal","height":11,"color":"#ff0000"},
   "encoding":{
    "y":{"field":"p","type":"quantitative","title":null},
    "x":{"datum":303,"type":"quantitative","title":null},
    "x2":{"datum":310.75}}},
  {"mark":{"type":"text","align":"left","baseline":"middle","fontSize":10.5,"color":"#000000"},
   "encoding":{
    "y":{"field":"p","type":"quantitative","title":null},
    "x":{"datum":303.9,"type":"quantitative","title":null},
    "text":{"field":"p","format":".2f"}}}
 ]},
{"data":{"values":[{"p":75.55}]},
 "layer":[
  {"mark":{"type":"bar","orient":"horizontal","height":11,"color":"#f5f5e1"},
   "encoding":{
    "y":{"field":"p","type":"quantitative","title":null},
    "x":{"datum":303,"type":"quantitative","title":null},
    "x2":{"datum":310.75}}},
  {"mark":{"type":"text","align":"left","baseline":"middle","fontSize":10.5,"color":"#000000"},
   "encoding":{
    "y":{"field":"p","type":"quantitative","title":null},
    "x":{"datum":303.9,"type":"quantitative","title":null},
    "text":{"field":"p","format":".2f"}}}
 ]},
{"data":{"values":[{"t":"WTI,H4\u00a0 75.27 75.64 75.06 75.55"}]},
 "mark":{"type":"text","align":"left","baseline":"middle","fontSize":10,"color":"#e6e6e6"},
 "encoding":{
  "x":{"datum":3.75,"type":"quantitative","title":null},
  "y":{"datum":77.555,"type":"quantitative","title":null},
  "text":{"field":"t"}}},
{"data":{"values":[{"s":"WTI"}]},
 "mark":{"type":"point","shape":"triangle-down","filled":true,"color":"#ffffff","size":20,"opacity":1},
 "encoding":{
  "x":{"datum":1.3,"type":"quantitative","title":null},
  "y":{"datum":77.56,"type":"quantitative","title":null}}},
{"data":{"values":[{"s":"shift"}]},
 "mark":{"type":"point","shape":"triangle-down","filled":true,"color":"#b4b4b4","size":70,"opacity":1},
 "encoding":{
  "x":{"datum":241.5,"type":"quantitative","title":null},
  "y":{"datum":77.69,"type":"quantitative","title":null}}}
]
}
